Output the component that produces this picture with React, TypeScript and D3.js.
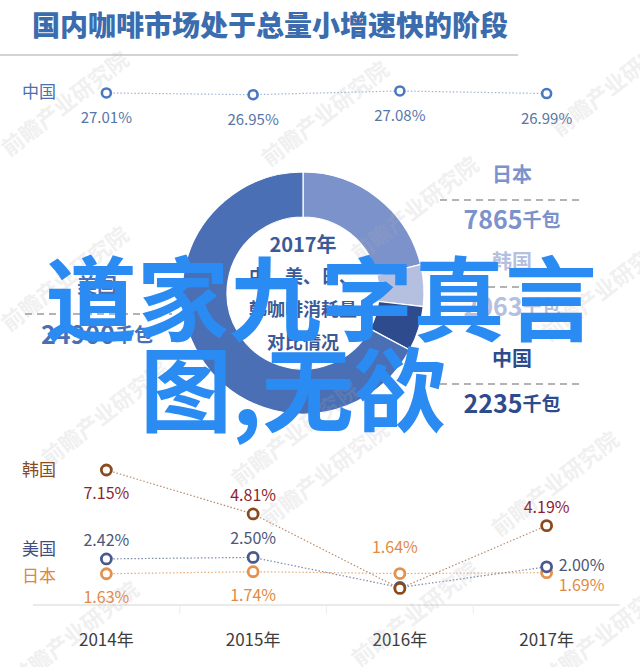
import React from 'react';
import * as d3 from 'd3';

const W = 640;
const H = 667;
const FONT = '"Noto Sans CJK SC", "Noto Sans", sans-serif';

const title = '国内咖啡市场处于总量小增速快的阶段';
const years = ['2014年', '2015年', '2016年', '2017年'];

// top row: China share
const chinaShare = [27.01, 26.95, 27.08, 26.99];

// bottom chart: growth rates
const koreaGrowth = [7.15, 4.81, 0.85, 4.19];
const usaGrowth = [2.42, 2.5, 0.9, 2.0];
const japanGrowth = [1.63, 1.74, 1.64, 1.69];

// donut: 2017 consumption (千包)
const donutNames = ['日本', '韩国', '中国', '美国'];
const donutValues = [7865, 2063, 2235, 24900];
const donutColors = ['#7c92cb', '#b5bfdf', '#2e4c8d', '#4a6fb5'];
const centerLines = ['中、美、日、', '韩咖啡消耗量', '对比情况'];

const overlayLines = ['道家九字真言', '图,无欲'];
const watermark = '前瞻产业研究院';

type Place = 'above' | 'aboveFar' | 'below' | 'rightUp' | 'rightDown' | null;

const bottomSeries: {
  name: string;
  values: number[];
  ring: string;
  line: string;
  text: string;
  place: Place[];
}[] = [
  { name: '日本', values: japanGrowth, ring: '#e4914c', line: '#e7aa72', text: '#e28a44', place: ['below', 'below', 'aboveFar', 'rightDown'] },
  { name: '美国', values: usaGrowth, ring: '#4a5a8c', line: '#7b88aa', text: '#4b5878', place: ['above', 'above', null, 'rightUp'] },
  { name: '韩国', values: koreaGrowth, ring: '#8a4a1c', line: '#b98a6c', text: '#8e1f30', place: ['below', 'above', null, 'above'] },
];

const offsets: Record<string, [number, number, string]> = {
  above: [0, -20, 'middle'],
  aboveFar: [-5, -28, 'middle'],
  below: [0, 22, 'middle'],
  rightUp: [12, -3, 'start'],
  rightDown: [12, 11, 'start'],
};

const watermarkSpots = [
  [70, 110], [330, 120], [620, 90], [70, 285], [420, 215], [610, 295],
  [110, 420], [300, 440], [330, 480], [560, 490], [80, 640], [420, 620], [610, 640],
];

export default function App() {
  const x = d3.scaleBand<string>().domain(years).range([33, 620]);
  const cx = (i: number) => (x(years[i]) ?? 0) + x.bandwidth() / 2;

  const yTop = d3.scaleLinear().domain([26.9, 27.1]).range([96.1, 90.4]);
  const yBot = d3.scaleLinear().domain([0, 8]).range([604.4, 454]);

  const topLine = d3
    .line<number>()
    .x((_, i) => cx(i))
    .y((d) => yTop(d));
  const botLine = d3
    .line<number>()
    .x((_, i) => cx(i))
    .y((d) => yBot(d));

  const pie = d3.pie<number>().sort(null).value((d) => d);
  const arcs = pie(donutValues);
  const arc = d3.arc<d3.PieArcDatum<number>>().innerRadius(76).outerRadius(121);
  const dcx = 303;
  const dcy = 293;

  const rightLabelY = [173, 260, 357];
  const usaIdx = 3;

  return (
    <svg
      width={W}
      height={H}
      style={{ position: 'absolute', left: 0, top: 0, background: '#fff' }}
      fontFamily={FONT}
    >
      <rect width={W} height={H} fill="#fff" />

      {/* title */}
      <text x={32} y={24} dominantBaseline="central" fontSize={28} fontWeight={900} fill="#3a6cae">
        {title}
      </text>
      <line x1={0} x2={518} y1={55} y2={55} stroke="#c4c4c4" strokeWidth={1.5} />

      {/* China share row */}
      <text x={22} y={90} dominantBaseline="central" fontSize={17} fill="#4a70b0">
        中国
      </text>
      <path d={topLine(chinaShare) ?? ''} fill="none" stroke="#9fb3d6" strokeWidth={1.2} strokeDasharray="1.5 2" />
      {chinaShare.map((v, i) => (
        <g key={i}>
          <circle cx={cx(i)} cy={yTop(v)} r={4.5} fill="#fff" stroke="#4a78c0" strokeWidth={2.6} />
          <text x={cx(i)} y={yTop(v) + 24} textAnchor="middle" dominantBaseline="central" fontSize={15} fill="#5676a8">
            {v.toFixed(2)}%
          </text>
        </g>
      ))}

      {/* donut */}
      <g transform={`translate(${dcx},${dcy})`}>
        {arcs.map((a, i) => (
          <path key={i} d={arc(a) ?? ''} fill={donutColors[i]} stroke="#fff" strokeWidth={1.2} />
        ))}
        <text y={-50} textAnchor="middle" dominantBaseline="central" fontSize={20} fontWeight={700} fill="#3b5a98">
          2017年
        </text>
        {centerLines.map((t, i) => (
          <text key={t} y={-18 + i * 33} textAnchor="middle" dominantBaseline="central" fontSize={18} fontWeight={700} fill="#3b5a98">
            {t}
          </text>
        ))}
      </g>

      {/* donut labels on the right */}
      {donutNames.slice(0, 3).map((n, i) => (
        <g key={n}>
          <text x={512} y={rightLabelY[i]} textAnchor="middle" dominantBaseline="central" fontSize={20} fontWeight={700} fill={donutColors[i]}>
            {n}
          </text>
          <line x1={440} x2={584} y1={rightLabelY[i] + 27} y2={rightLabelY[i] + 27} stroke="#9a9a9a" strokeWidth={1.3} strokeDasharray="7 5" />
          <text x={512} y={rightLabelY[i] + 45} textAnchor="middle" dominantBaseline="central" fontWeight={700} fill={donutColors[i]}>
            <tspan fontSize={25}>{donutValues[i]}</tspan>
            <tspan fontSize={19}>千包</tspan>
          </text>
        </g>
      ))}
      {/* USA label on the left */}
      <text x={97} y={284} textAnchor="middle" dominantBaseline="central" fontSize={20} fontWeight={700} fill={donutColors[usaIdx]}>
        {donutNames[usaIdx]}
      </text>
      <line x1={25} x2={172} y1={314} y2={314} stroke="#9a9a9a" strokeWidth={1.3} strokeDasharray="7 5" />
      <text x={97} y={333} textAnchor="middle" dominantBaseline="central" fontWeight={700} fill={donutColors[usaIdx]}>
        <tspan fontSize={25}>{donutValues[usaIdx]}</tspan>
        <tspan fontSize={19}>千包</tspan>
      </text>

      {/* bottom axis */}
      <line x1={33} x2={620} y1={605} y2={605} stroke="#e3e3e3" strokeWidth={1.5} />
      {years.map((y, i) => (
        <g key={y}>
          {i > 0 && <line x1={x(y)} x2={x(y)} y1={605} y2={614} stroke="#ececec" strokeWidth={1} />}
          <text x={cx(i)} y={638} textAnchor="middle" dominantBaseline="central" fontSize={17} fill="#3c3c3c">
            {y}
          </text>
        </g>
      ))}

      {/* bottom legends */}
      <text x={22} y={468} dominantBaseline="central" fontSize={17} fill="#8a4a1c">韩国</text>
      <text x={22} y={547} dominantBaseline="central" fontSize={17} fill="#3e4e80">美国</text>
      <text x={22} y={574} dominantBaseline="central" fontSize={17} fill="#e0853a">日本</text>

      {/* bottom lines */}
      {bottomSeries.map((s) => (
        <path key={s.name} d={botLine(s.values) ?? ''} fill="none" stroke={s.line} strokeWidth={1.2} strokeDasharray="1.5 2" />
      ))}
      {bottomSeries.map((s) =>
        s.values.map((v, i) => (
          <circle key={s.name + i} cx={cx(i)} cy={yBot(v)} r={5} fill="#fff" stroke={s.ring} strokeWidth={2.8} />
        ))
      )}
      {bottomSeries.map((s) =>
        s.values.map((v, i) => {
          const p = s.place[i];
          if (!p) return null;
          const [dx, dy, anchor] = offsets[p];
          return (
            <text
              key={'l' + s.name + i}
              x={cx(i) + dx}
              y={yBot(v) + dy}
              textAnchor={anchor as any}
              dominantBaseline="central"
              fontSize={16}
              fill={s.text}
            >
              {v.toFixed(2)}%
            </text>
          );
        })
      )}

      {/* faint watermarks */}
      {watermarkSpots.map(([wx, wy], i) => (
        <text
          key={'w' + i}
          transform={`translate(${wx},${wy}) rotate(-38)`}
          textAnchor="middle"
          fontSize={22}
          fontWeight={700}
          fill="#b0b0b0"
          opacity={0.18}
        >
          {watermark}
        </text>
      ))}

      {/* overlay text */}
      <text x={45} y={334} fontSize={92} fontWeight={700} fill="#2a8cf2">
        {overlayLines[0]}
      </text>
      <text x={140} y={425} fontSize={92} fontWeight={700} fill="#2a8cf2">
        {overlayLines[1]}
      </text>
    </svg>
  );
}
